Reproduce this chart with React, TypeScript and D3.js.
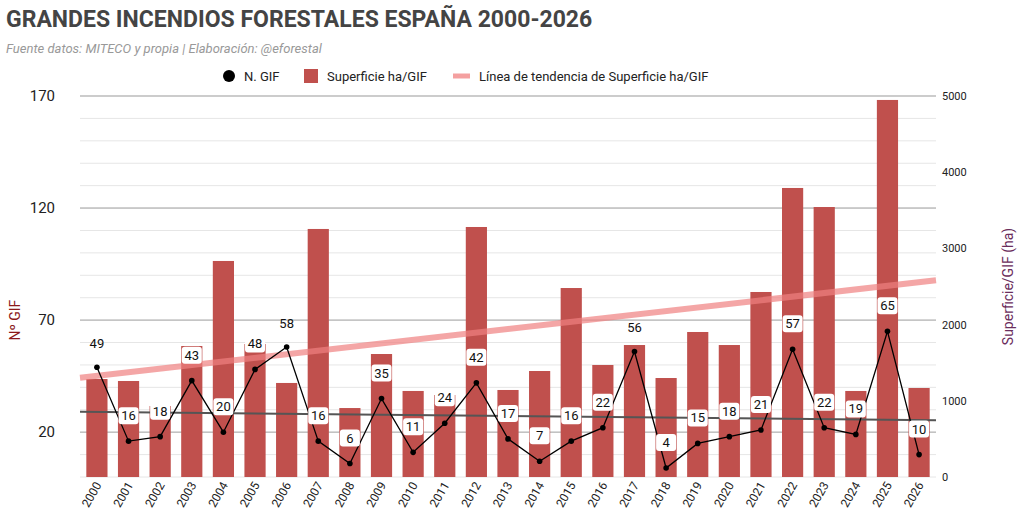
import * as d3 from 'd3';

const years = d3.range(2000, 2027).map(String);
const nGif = [49, 16, 18, 43, 20, 48, 58, 16, 6, 35, 11, 24, 42, 17, 7, 16, 22, 56, 4, 15, 18, 21, 57, 22, 19, 65, 10];
const haPerGif = [1286, 1260, 932, 1719, 2835, 1745, 1234, 3255, 905, 1614, 1129, 1076, 3281, 1142, 1391, 2480, 1470, 1732, 1299, 1903, 1732, 2428, 3793, 3543, 1129, 4948, 1168];
const leftTicks = [20, 70, 120, 170];
const rightTicks = [0, 1000, 2000, 3000, 4000, 5000];
// labels placed above point instead of on it
const aboveLabels = new Set([0, 6, 17]);

function fit(vals: number[]) {
  const n = vals.length;
  const mx = (n - 1) / 2;
  const my = d3.mean(vals)!;
  let num = 0, den = 0;
  vals.forEach((v, i) => { num += (i - mx) * (v - my); den += (i - mx) ** 2; });
  const b = num / den;
  return (i: number) => my + b * (i - mx);
}

export default function App() {
  const W = 1024, H = 527;
  const L = 80, R = 936, T = 96, B = 477;
  const x = d3.scaleBand().domain(years).range([L, R]).paddingInner(0.33).paddingOuter(0.2);
  const yL = d3.scaleLinear().domain([0, 170]).range([B, T]);
  const yR = d3.scaleLinear().domain([0, 5000]).range([B, T]);
  const cx = (i: number) => x(years[i])! + x.bandwidth() / 2;
  const tHa = fit(haPerGif);
  const tN = fit(nGif);
  const line = d3.line<number>().x((_, i) => cx(i)).y(d => yL(d));
  const minor = d3.range(0, 171, 10);
  return (
    <svg width={W} height={H} style={{ position: 'absolute', left: 0, top: 0, background: '#fff', fontFamily: 'Roboto, sans-serif' }}>
      <text x={6} y={27} fontSize={23} fontWeight={700} fill="#444">GRANDES INCENDIOS FORESTALES ESPAÑA 2000-2026</text>
      <text x={6} y={53} fontSize={13} fontStyle="italic" fill="#999">Fuente datos: MITECO y propia | Elaboración: @eforestal</text>
      <g fontSize={13} fill="#222">
        <circle cx={229} cy={76} r={6} fill="#000" />
        <text x={244} y={81}>N. GIF</text>
        <rect x={304} y={69} width={14} height={14} fill="#c0504d" />
        <text x={327} y={81}>Superficie ha/GIF</text>
        <line x1={453} x2={470} y1={76} y2={76} stroke="#f4a0a0" strokeWidth={5} />
        <text x={479} y={81}>Línea de tendencia de Superficie ha/GIF</text>
      </g>
      {minor.map(v => (
        <line key={v} x1={L} x2={R} y1={yL(v)} y2={yL(v)} stroke={leftTicks.includes(v + 0) ? '#bbb' : '#e6e6e6'} />
      ))}
      {leftTicks.map(v => (
        <g key={v}>
          <line x1={L} x2={R} y1={yL(v)} y2={yL(v)} stroke="#bbb" />
          <text x={55} y={yL(v) + 5} fontSize={15} textAnchor="end" fill="#222">{v}</text>
        </g>
      ))}
      {rightTicks.map(v => (
        <text key={v} x={942} y={yR(v) + 4} fontSize={11} fill="#222">{v}</text>
      ))}
      {haPerGif.map((v, i) => (
        <rect key={i} x={x(years[i])} y={yR(v)} width={x.bandwidth()} height={B - yR(v)} fill="#c0504d" />
      ))}
      <line x1={L} x2={R} y1={yR(tHa(-0.6))} y2={yR(tHa(26.6))} stroke="#f08080" strokeOpacity={0.7} strokeWidth={6} />
      <line x1={L} x2={R} y1={yL(tN(-0.6))} y2={yL(tN(26.6))} stroke="#555" strokeWidth={2} />
      <path d={line(nGif)!} fill="none" stroke="#000" strokeWidth={1.3} />
      {nGif.map((v, i) => (
        <g key={i}>
          <circle cx={cx(i)} cy={yL(v)} r={2.8} fill="#000" />
          {aboveLabels.has(i) ? (
            <text x={cx(i)} y={yL(v) - 19} fontSize={13} textAnchor="middle" fill="#111">{v}</text>
          ) : (
            <g>
              <rect x={cx(i) - 10} y={yL(v) - 34} width={20} height={17} rx={3} fill="#fff" />
              <text x={cx(i)} y={yL(v) - 21} fontSize={13} textAnchor="middle" fill="#111">{v}</text>
            </g>
          )}
        </g>
      ))}
      {years.map((y, i) => (
        <text key={y} transform={`translate(${cx(i) + 5},${B + 8}) rotate(-60)`} fontSize={12} textAnchor="end" fill="#222">{y}</text>
      ))}
      <text transform={`translate(20,${yL(70)}) rotate(-90)`} fontSize={14} textAnchor="middle" fill="#8b1a1a">Nº GIF</text>
      <text transform={`translate(1013,${yR(2500)}) rotate(-90)`} fontSize={14} textAnchor="middle" fill="#6b2d5c">Superficie/GIF (ha)</text>
    </svg>
  );
}
